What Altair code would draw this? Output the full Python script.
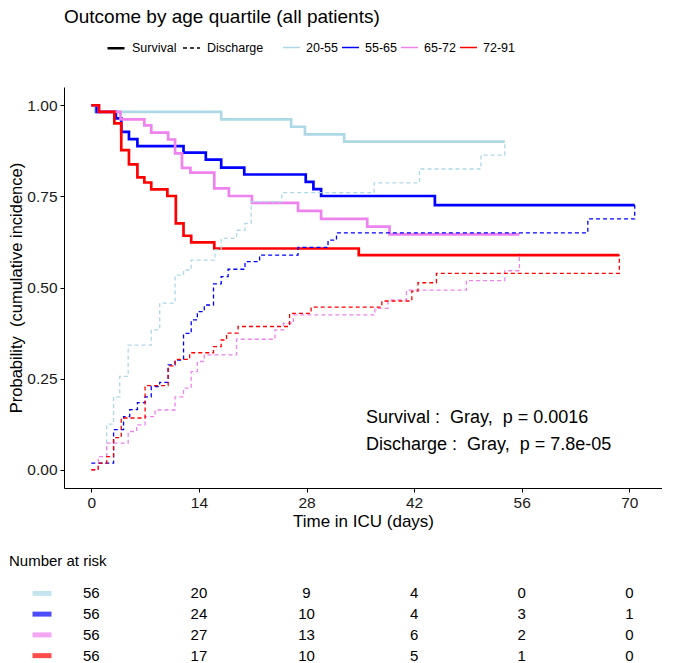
import altair as alt
import pandas as pd

FONT = "Liberation Sans"

GROUPS = ["20-55", "55-65", "65-72", "72-91"]
COLORS = ["#ADD8E6", "#0000FF", "#EE82EE", "#FF0000"]
TYPES = ["Survival", "Discharge"]

# Survival curves (solid), day / probability
surv_2055_t = [0, 0.5, 16.9, 26.0, 27.8, 32.9, 53.8]
surv_2055_p = [1.0, 0.982, 0.961, 0.941, 0.920, 0.900, 0.900]
surv_5565_t = [0, 0.7, 3.2, 3.9, 4.9, 6.0, 12.0, 14.9, 16.9, 19.9, 27.9, 28.9, 29.9, 44.7, 70.7]
surv_5565_p = [1.0, 0.982, 0.964, 0.927, 0.907, 0.888, 0.870, 0.851, 0.829, 0.810, 0.790, 0.770, 0.751, 0.726, 0.726]
surv_6572_t = [0, 1.0, 3.8, 6.9, 7.8, 10.0, 10.9, 11.8, 12.9, 16.0, 17.9, 20.9, 26.9, 29.9, 35.9, 38.8, 55.7]
surv_6572_p = [1.0, 0.982, 0.961, 0.945, 0.925, 0.906, 0.868, 0.828, 0.815, 0.772, 0.751, 0.732, 0.710, 0.688, 0.667, 0.646, 0.646]
surv_7291_t = [0, 1.0, 3.0, 3.9, 4.9, 6.0, 6.9, 7.8, 9.9, 11.0, 12.0, 13.0, 16.0, 34.8, 68.7]
surv_7291_p = [1.0, 0.982, 0.950, 0.877, 0.838, 0.802, 0.788, 0.769, 0.751, 0.676, 0.642, 0.624, 0.607, 0.589, 0.589]

# Discharge curves (dashed)
dis_2055_t = [0, 0.9, 2.0, 2.9, 3.7, 4.8, 7.8, 8.9, 10.9, 12.0, 13.0, 16.1, 16.9, 18.9, 20.0, 20.8, 24.8, 36.8, 42.7, 50.7, 53.8]
dis_2055_p = [0.0, 0.018, 0.125, 0.200, 0.256, 0.342, 0.384, 0.457, 0.534, 0.548, 0.575, 0.603, 0.635, 0.657, 0.676, 0.735, 0.760, 0.787, 0.825, 0.863, 0.900]
dis_5565_t = [0, 2.9, 4.2, 5.0, 6.0, 7.0, 7.8, 8.9, 10.0, 10.9, 12.0, 13.0, 13.8, 14.7, 15.9, 16.9, 17.8, 20.0, 21.9, 26.9, 30.8, 31.9, 64.6, 70.7]
dis_5565_p = [0.018, 0.110, 0.146, 0.165, 0.184, 0.200, 0.228, 0.240, 0.288, 0.301, 0.374, 0.411, 0.434, 0.452, 0.510, 0.530, 0.550, 0.571, 0.589, 0.610, 0.630, 0.650, 0.688, 0.726]
dis_6572_t = [0, 0.9, 2.0, 4.8, 5.9, 7.0, 8.3, 10.9, 12.0, 13.0, 13.8, 14.7, 18.9, 23.9, 25.0, 26.3, 36.9, 38.6, 41.0, 48.8, 53.8, 55.7]
dis_6572_p = [0.0, 0.036, 0.073, 0.105, 0.123, 0.146, 0.164, 0.200, 0.224, 0.269, 0.297, 0.315, 0.358, 0.384, 0.402, 0.425, 0.443, 0.466, 0.493, 0.519, 0.546, 0.594]
dis_7291_t = [0, 0.9, 2.0, 2.9, 3.9, 7.0, 10.0, 10.9, 12.8, 15.9, 16.9, 17.6, 19.1, 25.8, 28.6, 37.8, 41.7, 42.5, 44.9, 68.7]
dis_7291_p = [0.0, 0.018, 0.036, 0.088, 0.142, 0.231, 0.285, 0.303, 0.321, 0.338, 0.356, 0.375, 0.393, 0.429, 0.446, 0.463, 0.490, 0.513, 0.539, 0.589]

# Number at risk table
risk_days = [0, 14, 28, 42, 56, 70]
risk_2055 = [56, 20, 9, 4, 0, 0]
risk_5565 = [56, 24, 10, 4, 3, 1]
risk_6572 = [56, 27, 13, 6, 2, 0]
risk_7291 = [56, 17, 10, 5, 1, 0]

X_TICKS = [0, 14, 28, 42, 56, 70]
Y_TICKS = [0, 0.25, 0.5, 0.75, 1.0]

ANNOT_1 = "Survival :\u00a0\u00a0Gray,\u00a0\u00a0p = 0.0016"
ANNOT_2 = "Discharge :\u00a0\u00a0Gray,\u00a0\u00a0p = 7.8e-05"
Y_TITLE = "Probability\u00a0\u00a0(cumulative incidence)"

series = [
    ("20-55", "Survival", surv_2055_t, surv_2055_p),
    ("55-65", "Survival", surv_5565_t, surv_5565_p),
    ("65-72", "Survival", surv_6572_t, surv_6572_p),
    ("72-91", "Survival", surv_7291_t, surv_7291_p),
    ("20-55", "Discharge", dis_2055_t, dis_2055_p),
    ("55-65", "Discharge", dis_5565_t, dis_5565_p),
    ("65-72", "Discharge", dis_6572_t, dis_6572_p),
    ("72-91", "Discharge", dis_7291_t, dis_7291_p),
]
rows = []
for g, ty, ts, ps in series:
    for t, p in zip(ts, ps):
        rows.append({"group": g, "type": ty, "t": t, "p": p})
df = pd.DataFrame(rows)

risk_rows = []
for g, vals in zip(GROUPS, [risk_2055, risk_5565, risk_6572, risk_7291]):
    for d, n in zip(risk_days, vals):
        risk_rows.append({"group": g, "t": d, "n": n})
risk_df = pd.DataFrame(risk_rows)
sw_df = pd.DataFrame({"group": GROUPS})

x_scale = alt.Scale(domain=[-3.55, 74.25], nice=False, zero=False)
y_scale = alt.Scale(domain=[-0.05, 1.05], nice=False, zero=False)
color_scale = alt.Scale(domain=GROUPS, range=COLORS)

LEG_Y = -49

dash_legend = alt.Legend(
    title=None, orient="none", legendX=42, legendY=LEG_Y, direction="horizontal",
    symbolType="stroke", symbolSize=289, symbolStrokeColor="black",
    labelFontSize=12.5, labelFont=FONT, labelColor="black", columnPadding=3, labelOffset=6,
)

lines = alt.Chart(df).mark_line(interpolate="step-after").encode(
    x=alt.X("t:Q", scale=x_scale,
            axis=alt.Axis(values=X_TICKS, title="Time in ICU (days)", titleFontSize=17,
                          labelFontSize=15.5, tickSize=4, labelPadding=3, titlePadding=3,
                          labelFlush=False)),
    y=alt.Y("p:Q", scale=y_scale,
            axis=alt.Axis(values=Y_TICKS, format=".2f", title=Y_TITLE,
                          titleFontSize=16.5, labelFontSize=15.5, tickSize=4, labelPadding=3,
                          minExtent=38, maxExtent=38, titlePadding=2)),
    color=alt.Color("group:N", scale=color_scale,
                    legend=alt.Legend(title=None, orient="none", legendX=218, legendY=LEG_Y,
                                      direction="horizontal", symbolType="stroke", symbolSize=289,
                                      symbolStrokeWidth=1.5, labelFontSize=12.5, labelFont=FONT,
                                      labelColor="black", columnPadding=1, labelOffset=5)),
    strokeDash=alt.StrokeDash("type:N", scale=alt.Scale(domain=TYPES, range=[[1, 0], [4, 3]]),
                              legend=dash_legend),
    strokeWidth=alt.StrokeWidth("type:N", scale=alt.Scale(domain=TYPES, range=[2.7, 1.3]),
                                legend=dash_legend),
)

ann1 = alt.Chart(pd.DataFrame({"label": [ANNOT_1]})).mark_text(
    align="left", baseline="middle", fontSize=18, font=FONT, color="black"
).encode(x=alt.value(302), y=alt.value(331), text="label:N")
ann2 = alt.Chart(pd.DataFrame({"label": [ANNOT_2]})).mark_text(
    align="left", baseline="middle", fontSize=18, font=FONT, color="black"
).encode(x=alt.value(302), y=alt.value(358), text="label:N")

main = alt.layer(lines, ann1, ann2).properties(
    width=598, height=401,
    title=alt.TitleParams("Outcome by age quartile (all patients)", anchor="start", fontSize=19,
                          font=FONT, fontWeight="normal", color="black", offset=60, frame="group"),
)

risk_text = alt.Chart(risk_df).mark_text(fontSize=15, font=FONT, color="black").encode(
    x=alt.X("t:Q", scale=x_scale, axis=None),
    y=alt.Y("group:N", scale=alt.Scale(domain=GROUPS, paddingInner=0, paddingOuter=0), axis=None),
    text="n:Q",
)
risk_sw = alt.Chart(sw_df).mark_tick(orient="horizontal", thickness=5, size=19).encode(
    x=alt.value(-22),
    y=alt.Y("group:N", scale=alt.Scale(domain=GROUPS, paddingInner=0, paddingOuter=0), axis=None),
    color=alt.Color("group:N", scale=color_scale, legend=None),
)
risk = alt.layer(risk_sw, risk_text).properties(
    width=598, height=83,
    title=alt.TitleParams("Number at risk", anchor="start", fontSize=15, font=FONT,
                          fontWeight="normal", color="black", offset=14, frame="group", dx=-55),
)

chart = alt.vconcat(main, risk, spacing=24).properties(
    padding={"left": 0, "top": 0, "right": 0, "bottom": 0}
).configure_view(stroke=None).configure_axis(
    grid=False, domainColor="black", tickColor="black", labelColor="#1a1a1a",
    titleColor="black", labelFont=FONT, titleFont=FONT, titleFontWeight="normal",
    domainWidth=1, tickWidth=1,
)

chart.save("out.html", embed_options={"renderer": "svg", "actions": False})
